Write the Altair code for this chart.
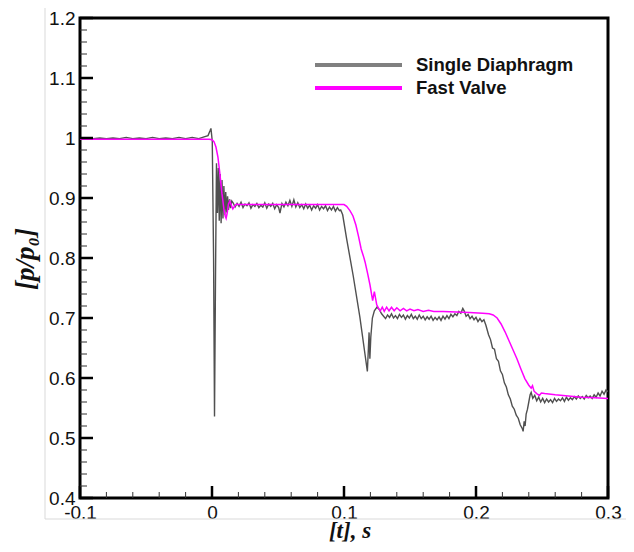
import altair as alt
import pandas as pd

# ---------------- data ----------------
SD_T = [-0.100, -0.095, -0.090, -0.085, -0.080, -0.075, -0.070, -0.065, -0.060, -0.055,
        -0.050, -0.045, -0.040, -0.035, -0.030, -0.025, -0.020, -0.015, -0.010, -0.006,
        -0.003, -0.0015, -0.0008, 0.0002, 0.0012, 0.0019, 0.0027, 0.0034, 0.0041, 0.0048,
        0.0055, 0.0062, 0.0069, 0.0076, 0.0083, 0.0090, 0.0097, 0.0104, 0.0111, 0.0118,
        0.0125, 0.0133, 0.0141, 0.0150,
        0.016, 0.0175, 0.019, 0.0205, 0.022, 0.0235, 0.025, 0.0265, 0.028, 0.0295,
        0.031, 0.0325, 0.034, 0.0355, 0.037, 0.0385, 0.040, 0.0415, 0.043, 0.0445,
        0.046, 0.0475, 0.049, 0.0505, 0.0515, 0.053, 0.0545, 0.056, 0.0575, 0.059,
        0.0605, 0.062, 0.0635, 0.065, 0.0665, 0.068, 0.0695, 0.071, 0.0725, 0.074,
        0.0755, 0.077, 0.0785, 0.080, 0.0815, 0.083, 0.0845, 0.086, 0.0875, 0.089,
        0.0905, 0.092, 0.0935, 0.095, 0.0965, 0.0975,
        0.0990, 0.1020, 0.1070, 0.1120, 0.1165, 0.1177, 0.1185, 0.1190, 0.1196, 0.1203,
        0.1215, 0.1230, 0.1250, 0.1268, 0.1285, 0.1300,
        0.1315, 0.1330, 0.1345, 0.1360, 0.1375, 0.1390, 0.1405, 0.1420, 0.1435, 0.1450,
        0.1465, 0.1480, 0.1495, 0.1510, 0.1525, 0.1540, 0.1555, 0.1570, 0.1585, 0.1600,
        0.1615, 0.1630, 0.1645, 0.1660, 0.1675, 0.1690, 0.1705, 0.1720, 0.1735, 0.1750,
        0.1765, 0.1780, 0.1795, 0.1810, 0.1825, 0.1840, 0.1855, 0.1870, 0.1885, 0.1900,
        0.1910, 0.1925, 0.1940, 0.1955, 0.1970, 0.1985, 0.2000, 0.2015, 0.2030, 0.2045,
        0.2060, 0.2075,
        0.2095, 0.2110, 0.2125, 0.2140, 0.2155, 0.2170, 0.2185, 0.2200, 0.2215, 0.2230,
        0.2245, 0.2260, 0.2275, 0.2290, 0.2305, 0.2320, 0.2335, 0.2350, 0.2357, 0.2365,
        0.2372, 0.2380, 0.2390, 0.2400, 0.2410, 0.2418,
        0.2430, 0.2445, 0.2460, 0.2475, 0.2490, 0.2505, 0.2520, 0.2535, 0.2550, 0.2565,
        0.2580, 0.2595, 0.2610, 0.2625, 0.2640, 0.2655, 0.2670, 0.2685, 0.2700, 0.2715,
        0.2730, 0.2745, 0.2760, 0.2775, 0.2790, 0.2805, 0.2820, 0.2835, 0.2850, 0.2865,
        0.2880, 0.2895, 0.2910, 0.2925, 0.2940, 0.2955, 0.2970, 0.2985, 0.3000]
SD_P = [0.999, 1.000, 0.999, 1.000, 0.999, 1.000, 0.999, 1.001, 0.999, 1.000,
        0.999, 1.001, 0.999, 1.000, 0.999, 1.001, 0.999, 1.001, 0.999, 1.002,
        1.004, 1.012, 1.016, 0.995, 0.800, 0.536, 0.780, 0.958, 0.875, 0.950,
        0.862, 0.940, 0.858, 0.930, 0.866, 0.920, 0.872, 0.910, 0.876, 0.903,
        0.880, 0.898, 0.883, 0.895,
        0.892, 0.885, 0.891, 0.886, 0.893, 0.884, 0.890, 0.887, 0.892, 0.883,
        0.889, 0.886, 0.891, 0.884, 0.888, 0.885, 0.892, 0.883, 0.890, 0.886,
        0.891, 0.882, 0.889, 0.884, 0.875, 0.891, 0.885, 0.893, 0.887, 0.896,
        0.886, 0.897, 0.885, 0.892, 0.884, 0.889, 0.882, 0.890, 0.883, 0.888,
        0.880, 0.887, 0.883, 0.889, 0.880, 0.886, 0.882, 0.887, 0.879, 0.885,
        0.880, 0.886, 0.878, 0.884, 0.879, 0.880,
        0.872, 0.832, 0.770, 0.702, 0.630, 0.611, 0.650, 0.676, 0.632, 0.668,
        0.700, 0.712, 0.718, 0.714, 0.707, 0.703,
        0.699, 0.705, 0.701, 0.707, 0.700, 0.704, 0.699, 0.706, 0.701, 0.705,
        0.698, 0.704, 0.700, 0.706, 0.699, 0.703, 0.698, 0.705, 0.699, 0.703,
        0.697, 0.702, 0.698, 0.703, 0.696, 0.701, 0.697, 0.702, 0.696, 0.703,
        0.698, 0.704, 0.699, 0.706, 0.702, 0.707, 0.704, 0.711, 0.708, 0.716,
        0.712, 0.703, 0.706, 0.699, 0.703, 0.697, 0.701, 0.694, 0.699, 0.694,
        0.697, 0.688,
        0.672, 0.664, 0.650, 0.648, 0.632, 0.628, 0.612, 0.606, 0.592, 0.585,
        0.572, 0.565, 0.553, 0.548, 0.538, 0.533, 0.522, 0.516, 0.511, 0.528,
        0.520, 0.540, 0.548, 0.560, 0.572, 0.576,
        0.566, 0.571, 0.562, 0.568, 0.560, 0.566, 0.559, 0.565, 0.560, 0.564,
        0.559, 0.566, 0.561, 0.565, 0.562, 0.567, 0.561, 0.568, 0.563, 0.567,
        0.564, 0.569, 0.565, 0.570, 0.566, 0.569, 0.565, 0.571, 0.567, 0.570,
        0.566, 0.572, 0.568, 0.575, 0.570, 0.578, 0.573, 0.580, 0.577]

FV_T = [-0.100, -0.050, -0.002, 0.000, 0.0015, 0.0030, 0.0045, 0.0060, 0.0075, 0.0090,
        0.0100, 0.0107, 0.0115, 0.0125, 0.0135, 0.0147, 0.0158, 0.0170, 0.0185, 0.0200,
        0.0400, 0.0600, 0.0800, 0.0990,
        0.1000, 0.1020, 0.1045, 0.1068, 0.1090, 0.1110, 0.1130, 0.1150, 0.1160, 0.1180,
        0.1197, 0.1217, 0.1230, 0.1248, 0.1262, 0.1275, 0.1290, 0.1305, 0.1323, 0.1341,
        0.1360, 0.1380, 0.1400, 0.1425, 0.1450, 0.1475, 0.1500, 0.1530, 0.1560, 0.1600,
        0.1640, 0.1680, 0.1750, 0.1850, 0.1950, 0.2050, 0.2100,
        0.2130, 0.2160, 0.2190, 0.2220, 0.2250, 0.2280, 0.2310, 0.2340, 0.2370, 0.2400,
        0.2418, 0.2428, 0.2440, 0.2460, 0.2480, 0.2495, 0.2520, 0.2600, 0.2700, 0.2800,
        0.2900, 0.3000]
FV_P = [0.998, 0.998, 0.998, 0.997, 0.994, 0.985, 0.968, 0.940, 0.908, 0.882,
        0.870, 0.866, 0.875, 0.890, 0.895, 0.888, 0.882, 0.886, 0.890, 0.889,
        0.889, 0.889, 0.889, 0.889,
        0.889, 0.886, 0.879, 0.870, 0.855, 0.836, 0.815, 0.801, 0.793, 0.773,
        0.755, 0.729, 0.744, 0.722, 0.716, 0.712, 0.718, 0.711, 0.718, 0.712,
        0.718, 0.712, 0.717, 0.712, 0.716, 0.712, 0.715, 0.712, 0.714, 0.711,
        0.713, 0.711, 0.711, 0.710, 0.709, 0.708, 0.707,
        0.705, 0.700, 0.690, 0.677, 0.662, 0.647, 0.632, 0.615, 0.599, 0.588,
        0.583, 0.587, 0.578, 0.574, 0.571, 0.575, 0.574, 0.572, 0.570, 0.568,
        0.567, 0.566]

LEGEND_LABELS = ["Single Diaphragm", "Fast Valve"]
LEGEND_COLORS = ["#808080", "#ff00ff"]
SERIES_COLORS = ["#505050", "#ff00ff"]

X_MAJOR = [-0.1, 0.0, 0.1, 0.2, 0.3]
X_MINOR = [-0.08, -0.06, -0.04, -0.02, 0.02, 0.04, 0.06, 0.08, 0.12, 0.14, 0.16, 0.18,
           0.22, 0.24, 0.26, 0.28]
Y_MAJOR = [0.4, 0.5, 0.6, 0.7, 0.8, 0.9, 1.0, 1.1, 1.2]
Y_MINOR = [0.42, 0.44, 0.46, 0.48, 0.52, 0.54, 0.56, 0.58, 0.62, 0.64, 0.66, 0.68,
           0.72, 0.74, 0.76, 0.78, 0.82, 0.84, 0.86, 0.88, 0.92, 0.94, 0.96, 0.98,
           1.02, 1.04, 1.06, 1.08, 1.12, 1.14, 1.16, 1.18]

X_TITLE = "[t], s"
Y_TITLE = "[p/p\u2080]"

# ---------------- chart ----------------
W, H = 528, 480
xscale = alt.Scale(domain=[-0.1, 0.3], nice=False, zero=False)
yscale = alt.Scale(domain=[0.4, 1.2], nice=False, zero=False)

label_style = dict(labelFont="Liberation Sans", labelFontSize=19, labelColor="#111111",
                   ticks=False, domain=False, grid=False, title=None,
                   labelFlush=False, labelOverlap=False, labelExpr="'' + datum.value")
xaxis = alt.Axis(values=X_MAJOR, labelPadding=5, **label_style)
yaxis = alt.Axis(values=Y_MAJOR, labelPadding=5, **label_style)

sd = pd.DataFrame({"t": SD_T, "p": SD_P, "i": range(len(SD_T))})
fv = pd.DataFrame({"t": FV_T, "p": FV_P, "i": range(len(FV_T))})

sd_line = alt.Chart(sd).mark_line(color=SERIES_COLORS[0], strokeWidth=1.4, clip=True).encode(
    x=alt.X("t:Q", scale=xscale, axis=xaxis),
    y=alt.Y("p:Q", scale=yscale, axis=yaxis),
    order="i:Q",
)
fv_line = alt.Chart(fv).mark_line(color=SERIES_COLORS[1], strokeWidth=1.5, clip=True).encode(
    x=alt.X("t:Q", scale=xscale),
    y=alt.Y("p:Q", scale=yscale),
    order="i:Q",
)

def xticks(vals, length, width, color):
    return alt.Chart(pd.DataFrame({"t": vals})).mark_rule(color=color, strokeWidth=width).encode(
        x=alt.X("t:Q", scale=xscale), y=alt.value(H), y2=alt.value(H - length))

def yticks(vals, length, width, color):
    return alt.Chart(pd.DataFrame({"p": vals})).mark_rule(color=color, strokeWidth=width).encode(
        y=alt.Y("p:Q", scale=yscale), x=alt.value(0), x2=alt.value(length))

tick_layers = [
    xticks(X_MINOR, 6, 1, "#333333"),
    xticks(X_MAJOR, 12, 2.5, "#000000"),
    yticks(Y_MINOR, 7, 1, "#333333"),
    yticks(Y_MAJOR, 13, 2.5, "#000000"),
]

legend_layers = []
for i, (lab, col) in enumerate(zip(LEGEND_LABELS, LEGEND_COLORS)):
    d = pd.DataFrame({"label": [lab]})
    legend_layers.append(alt.Chart(d).mark_rule(color=col, strokeWidth=4).encode(
        x=alt.value(235), x2=alt.value(322), y=alt.value(47 + 23 * i)))
    legend_layers.append(alt.Chart(d).mark_text(
        align="left", baseline="alphabetic", font="Liberation Sans", fontWeight="bold",
        fontSize=18.5, color="#111111").encode(
        x=alt.value(336), y=alt.value(53 + 23 * i), text="label:N"))

title_layers = [
    alt.Chart(pd.DataFrame({"s": [X_TITLE]})).mark_text(
        align="center", baseline="alphabetic", font="Liberation Serif", fontStyle="italic",
        fontWeight="bold", fontSize=23, color="#111111").encode(
        x=alt.value(270), y=alt.value(520), text="s:N"),
    alt.Chart(pd.DataFrame({"s": [Y_TITLE]})).mark_text(
        align="center", baseline="middle", font="Liberation Serif", fontStyle="italic",
        fontWeight="bold", fontSize=27, angle=270, color="#111111").encode(
        x=alt.value(-54), y=alt.value(241), text="s:N"),
]

frame_layers = [
    alt.Chart(pd.DataFrame({"k": [0]})).mark_rule(color="#d9d9d9", strokeWidth=1).encode(
        x=alt.value(-35), y=alt.value(-18), y2=alt.value(501)),
    alt.Chart(pd.DataFrame({"k": [0]})).mark_rule(color="#d9d9d9", strokeWidth=1).encode(
        x=alt.value(-35), x2=alt.value(548), y=alt.value(501)),
]

chart = alt.layer(sd_line, fv_line, *tick_layers, *legend_layers, *title_layers,
                  *frame_layers).properties(
    width=W, height=H,
    autosize=alt.AutoSizeParams(type="none"),
    padding={"left": 72, "top": 10, "right": 18, "bottom": 46},
).configure(
    background="white",
    view=alt.ViewConfig(stroke="#000000", strokeWidth=3),
)

chart.save("out.html", embed_options={"renderer": "svg", "actions": False})
